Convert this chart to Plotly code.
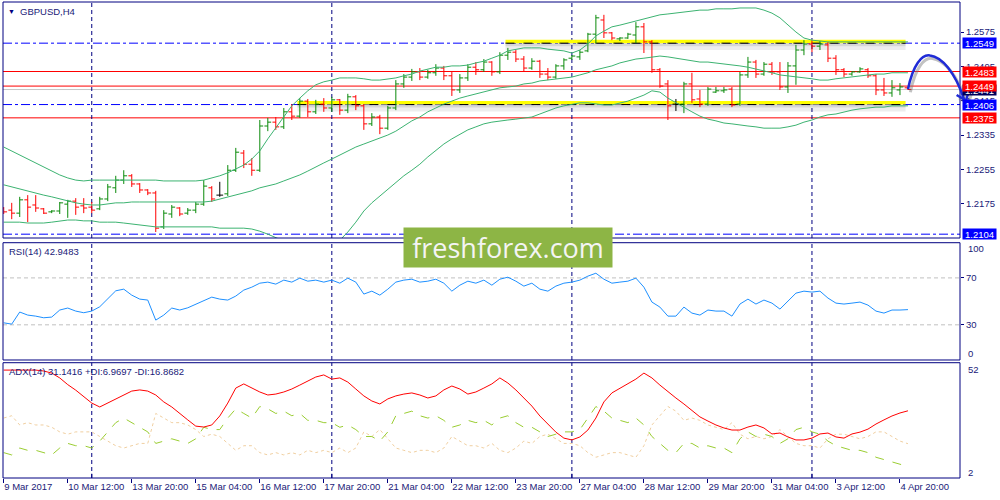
import plotly.graph_objects as go

# ---------------- data ----------------
x_labels = ["9 Mar 2017", "10 Mar 12:00", "13 Mar 20:00", "15 Mar 04:00", "16 Mar 12:00",
            "17 Mar 20:00", "21 Mar 04:00", "22 Mar 12:00", "23 Mar 20:00", "27 Mar 04:00",
            "28 Mar 12:00", "29 Mar 20:00", "31 Mar 04:00", "3 Apr 12:00", "4 Apr 20:00"]
x_label_bars = list(range(0, 113, 8))
week_separators = [11, 41, 71, 101]

open_ = [1.2165, 1.2160, 1.2153, 1.2184, 1.2172, 1.2163, 1.2156, 1.2158, 1.2174, 1.2181,
         1.2170, 1.2167, 1.2163, 1.2186, 1.2212, 1.2230, 1.2240, 1.2221, 1.2207, 1.2200,
         1.2121, 1.2151, 1.2165, 1.2153, 1.2160, 1.2174, 1.2212, 1.2195, 1.2198, 1.2253,
         1.2293, 1.2267, 1.2253, 1.2356, 1.2365, 1.2354, 1.2389, 1.2379, 1.2414, 1.2389,
         1.2407, 1.2398, 1.2417, 1.2393, 1.2424, 1.2403, 1.2361, 1.2377, 1.2351, 1.2398,
         1.2454, 1.2470, 1.2482, 1.2470, 1.2480, 1.2491, 1.2473, 1.2440, 1.2468, 1.2493,
         1.2487, 1.2505, 1.2482, 1.2521, 1.2528, 1.2512, 1.2491, 1.2507, 1.2477, 1.2470,
         1.2496, 1.2514, 1.2517, 1.2531, 1.2570, 1.2603, 1.2573, 1.2559, 1.2561, 1.2568,
         1.2587, 1.2552, 1.2487, 1.2454, 1.2407, 1.2407, 1.2454, 1.2419, 1.2407, 1.2435,
         1.2438, 1.2442, 1.2407, 1.2475, 1.2505, 1.2477, 1.2500, 1.2482, 1.2447, 1.2496,
         1.2533, 1.2547, 1.2542, 1.2545, 1.2514, 1.2487, 1.2477, 1.2482, 1.2487, 1.2473,
         1.2440, 1.2433, 1.2440, 1.2445]
high = [1.2167, 1.2177, 1.2191, 1.2195, 1.2195, 1.2165, 1.2160, 1.2179, 1.2184, 1.2188,
        1.2188, 1.2179, 1.2191, 1.2221, 1.2240, 1.2253, 1.2244, 1.2223, 1.2209, 1.2205,
        1.2160, 1.2172, 1.2167, 1.2165, 1.2179, 1.2230, 1.2216, 1.2226, 1.2265, 1.2305,
        1.2300, 1.2281, 1.2370, 1.2375, 1.2377, 1.2398, 1.2407, 1.2421, 1.2419, 1.2417,
        1.2421, 1.2424, 1.2419, 1.2431, 1.2428, 1.2407, 1.2386, 1.2382, 1.2403, 1.2463,
        1.2477, 1.2489, 1.2491, 1.2487, 1.2500, 1.2496, 1.2482, 1.2477, 1.2500, 1.2505,
        1.2512, 1.2507, 1.2528, 1.2538, 1.2533, 1.2519, 1.2514, 1.2510, 1.2491, 1.2500,
        1.2514, 1.2521, 1.2533, 1.2573, 1.2615, 1.2615, 1.2575, 1.2563, 1.2573, 1.2598,
        1.2596, 1.2556, 1.2491, 1.2463, 1.2419, 1.2459, 1.2480, 1.2440, 1.2447, 1.2447,
        1.2447, 1.2447, 1.2482, 1.2517, 1.2510, 1.2505, 1.2505, 1.2505, 1.2505, 1.2545,
        1.2556, 1.2556, 1.2554, 1.2552, 1.2521, 1.2491, 1.2484, 1.2493, 1.2491, 1.2477,
        1.2468, 1.2463, 1.2456, 1.2447]
low = [1.2151, 1.2139, 1.2144, 1.2132, 1.2156, 1.2151, 1.2153, 1.2151, 1.2142, 1.2149,
       1.2153, 1.2153, 1.2160, 1.2181, 1.2200, 1.2221, 1.2214, 1.2200, 1.2195, 1.2109,
       1.2116, 1.2142, 1.2146, 1.2149, 1.2153, 1.2170, 1.2179, 1.2191, 1.2193, 1.2249,
       1.2258, 1.2240, 1.2249, 1.2344, 1.2347, 1.2349, 1.2370, 1.2375, 1.2377, 1.2384,
       1.2389, 1.2389, 1.2382, 1.2386, 1.2393, 1.2347, 1.2356, 1.2337, 1.2347, 1.2393,
       1.2445, 1.2461, 1.2463, 1.2466, 1.2473, 1.2463, 1.2426, 1.2433, 1.2461, 1.2475,
       1.2482, 1.2473, 1.2477, 1.2510, 1.2505, 1.2482, 1.2487, 1.2468, 1.2463, 1.2466,
       1.2487, 1.2510, 1.2510, 1.2528, 1.2549, 1.2561, 1.2556, 1.2554, 1.2559, 1.2549,
       1.2526, 1.2480, 1.2445, 1.2370, 1.2391, 1.2386, 1.2410, 1.2400, 1.2403, 1.2433,
       1.2433, 1.2400, 1.2403, 1.2468, 1.2468, 1.2473, 1.2475, 1.2440, 1.2433, 1.2452,
       1.2521, 1.2528, 1.2533, 1.2505, 1.2475, 1.2470, 1.2473, 1.2480, 1.2468, 1.2428,
       1.2426, 1.2424, 1.2428, 1.2440]
close = [1.2156, 1.2153, 1.2184, 1.2167, 1.2165, 1.2153, 1.2158, 1.2177, 1.2181, 1.2167,
         1.2165, 1.2160, 1.2186, 1.2214, 1.2230, 1.2240, 1.2221, 1.2207, 1.2200, 1.2118,
         1.2153, 1.2167, 1.2151, 1.2160, 1.2174, 1.2216, 1.2186, 1.2195, 1.2253, 1.2295,
         1.2267, 1.2253, 1.2356, 1.2365, 1.2354, 1.2389, 1.2379, 1.2414, 1.2389, 1.2407,
         1.2398, 1.2417, 1.2393, 1.2424, 1.2403, 1.2361, 1.2377, 1.2351, 1.2398, 1.2454,
         1.2470, 1.2482, 1.2470, 1.2480, 1.2491, 1.2473, 1.2440, 1.2468, 1.2493, 1.2487,
         1.2505, 1.2482, 1.2521, 1.2528, 1.2512, 1.2491, 1.2507, 1.2477, 1.2470, 1.2496,
         1.2510, 1.2519, 1.2528, 1.2570, 1.2608, 1.2573, 1.2561, 1.2561, 1.2570, 1.2587,
         1.2552, 1.2487, 1.2449, 1.2403, 1.2407, 1.2454, 1.2417, 1.2407, 1.2442, 1.2438,
         1.2440, 1.2405, 1.2475, 1.2505, 1.2477, 1.2500, 1.2482, 1.2447, 1.2496, 1.2533,
         1.2547, 1.2542, 1.2547, 1.2514, 1.2487, 1.2477, 1.2482, 1.2489, 1.2473, 1.2440,
         1.2433, 1.2445, 1.2447, 1.2441]

bb_upper = [1.2307, 1.2298, 1.2288, 1.2279, 1.2270, 1.2261, 1.2251, 1.2242, 1.2235, 1.2230,
            1.2228, 1.2230, 1.2230, 1.2230, 1.2230, 1.2230, 1.2230, 1.2230, 1.2230, 1.2230,
            1.2228, 1.2228, 1.2228, 1.2228, 1.2228, 1.2230, 1.2235, 1.2240, 1.2247, 1.2256,
            1.2265, 1.2279, 1.2298, 1.2326, 1.2351, 1.2377, 1.2403, 1.2421, 1.2438, 1.2452,
            1.2459, 1.2463, 1.2468, 1.2468, 1.2468, 1.2466, 1.2463, 1.2463, 1.2466, 1.2468,
            1.2473, 1.2477, 1.2484, 1.2489, 1.2493, 1.2493, 1.2496, 1.2496, 1.2498, 1.2503,
            1.2507, 1.2514, 1.2521, 1.2531, 1.2535, 1.2538, 1.2538, 1.2538, 1.2535, 1.2533,
            1.2531, 1.2526, 1.2533, 1.2547, 1.2566, 1.2577, 1.2587, 1.2591, 1.2596, 1.2601,
            1.2605, 1.2610, 1.2615, 1.2617, 1.2619, 1.2622, 1.2624, 1.2626, 1.2626, 1.2629,
            1.2629, 1.2629, 1.2631, 1.2631, 1.2631, 1.2626, 1.2619, 1.2608, 1.2591, 1.2575,
            1.2561, 1.2556, 1.2554, 1.2552, 1.2552, 1.2552, 1.2552, 1.2552, 1.2552, 1.2552,
            1.2552, 1.2552, 1.2552, 1.2552]
bb_middle = [1.2219, 1.2214, 1.2209, 1.2205, 1.2200, 1.2195, 1.2191, 1.2186, 1.2181, 1.2177,
             1.2174, 1.2172, 1.2172, 1.2174, 1.2177, 1.2177, 1.2179, 1.2179, 1.2179, 1.2179,
             1.2179, 1.2179, 1.2179, 1.2179, 1.2179, 1.2179, 1.2181, 1.2186, 1.2191, 1.2195,
             1.2200, 1.2205, 1.2212, 1.2216, 1.2221, 1.2228, 1.2235, 1.2242, 1.2251, 1.2261,
             1.2270, 1.2279, 1.2288, 1.2298, 1.2307, 1.2314, 1.2321, 1.2328, 1.2335, 1.2344,
             1.2356, 1.2368, 1.2377, 1.2389, 1.2398, 1.2407, 1.2414, 1.2421, 1.2426, 1.2431,
             1.2435, 1.2440, 1.2445, 1.2447, 1.2449, 1.2454, 1.2456, 1.2461, 1.2463, 1.2466,
             1.2468, 1.2470, 1.2475, 1.2480, 1.2487, 1.2491, 1.2496, 1.2503, 1.2507, 1.2512,
             1.2514, 1.2517, 1.2519, 1.2517, 1.2514, 1.2510, 1.2507, 1.2505, 1.2505, 1.2503,
             1.2500, 1.2498, 1.2496, 1.2493, 1.2489, 1.2484, 1.2480, 1.2475, 1.2473, 1.2470,
             1.2468, 1.2466, 1.2463, 1.2463, 1.2466, 1.2468, 1.2470, 1.2473, 1.2475, 1.2477,
             1.2477, 1.2480, 1.2480, 1.2480]
bb_lower = [1.2132, 1.2132, 1.2132, 1.2130, 1.2130, 1.2130, 1.2132, 1.2135, 1.2137, 1.2137,
            1.2135, 1.2135, 1.2132, 1.2132, 1.2132, 1.2130, 1.2128, 1.2125, 1.2123, 1.2121,
            1.2121, 1.2121, 1.2121, 1.2121, 1.2121, 1.2121, 1.2121, 1.2118, 1.2118, 1.2118,
            1.2118, 1.2116, 1.2111, 1.2104, 1.2097, 1.2088, 1.2076, 1.2067, 1.2062, 1.2062,
            1.2067, 1.2076, 1.2090, 1.2109, 1.2132, 1.2158, 1.2177, 1.2193, 1.2207, 1.2223,
            1.2240, 1.2253, 1.2267, 1.2284, 1.2300, 1.2314, 1.2326, 1.2337, 1.2347, 1.2354,
            1.2361, 1.2365, 1.2368, 1.2370, 1.2372, 1.2375, 1.2377, 1.2384, 1.2391, 1.2398,
            1.2403, 1.2407, 1.2410, 1.2410, 1.2407, 1.2405, 1.2405, 1.2410, 1.2414, 1.2421,
            1.2428, 1.2438, 1.2435, 1.2421, 1.2410, 1.2398, 1.2389, 1.2379, 1.2372, 1.2368,
            1.2363, 1.2361, 1.2358, 1.2356, 1.2354, 1.2351, 1.2351, 1.2351, 1.2354, 1.2358,
            1.2365, 1.2370, 1.2377, 1.2382, 1.2384, 1.2389, 1.2393, 1.2396, 1.2398, 1.2400,
            1.2400, 1.2403, 1.2403, 1.2403]

rsi = [31.7, 30.6, 40.9, 38.3, 37.4, 36.0, 36.6, 42.6, 44.3, 41.7,
       40.3, 41.7, 45.4, 52.0, 59.0, 60.4, 55.3, 51.9, 51.1, 34.0,
       38.3, 44.3, 42.6, 44.5, 47.7, 51.1, 53.6, 51.9, 51.1, 54.5,
       59.6, 62.1, 65.5, 66.4, 64.7, 68.1, 66.4, 69.8, 67.2, 68.1,
       66.4, 68.1, 65.5, 69.8, 66.4, 56.2, 58.7, 55.3, 60.4, 66.4,
       68.1, 68.9, 66.4, 67.2, 68.9, 65.5, 58.7, 63.8, 67.2, 65.5,
       68.1, 63.8, 68.9, 70.6, 67.2, 63.0, 65.5, 60.4, 58.7, 63.0,
       65.5, 66.4, 68.1, 71.5, 74.0, 68.9, 65.5, 66.4, 67.2, 69.8,
       62.1, 49.4, 45.1, 37.4, 37.4, 45.1, 40.0, 38.3, 42.6, 41.7,
       41.7, 37.4, 47.7, 51.9, 47.7, 51.1, 48.5, 43.4, 50.2, 57.0,
       58.7, 57.9, 58.7, 52.8, 48.5, 47.7, 48.5, 49.4, 46.8, 41.7,
       40.0, 42.6, 42.6, 42.9483]

adx = [48.8, 48.8, 48.8, 48.8, 48.8, 48.4, 47.5, 45.4, 42.5, 40.1,
       37.1, 34.5, 32.8, 34.5, 36.3, 38.0, 39.7, 40.2, 39.7, 38.0,
       35.0, 32.8, 29.8, 27.2, 24.5, 24.1, 25.0, 28.9, 34.5, 41.0,
       42.8, 41.0, 39.3, 38.0, 38.4, 39.3, 40.6, 42.3, 44.1, 45.8,
       46.7, 44.9, 45.4, 43.6, 40.6, 37.6, 35.4, 34.1, 36.3, 37.6,
       38.4, 38.9, 38.0, 36.7, 37.6, 40.2, 41.9, 40.6, 38.4, 39.3,
       41.0, 42.8, 45.4, 43.2, 40.2, 36.7, 33.2, 28.9, 25.4, 21.9,
       19.3, 18.5, 19.8, 22.8, 28.0, 35.0, 38.9, 41.0, 42.8, 44.9,
       47.5, 45.4, 42.3, 39.3, 36.7, 34.1, 31.1, 28.5, 26.7, 25.0,
       23.7, 22.8, 22.8, 24.1, 25.0, 23.7, 21.1, 21.5, 19.8, 18.5,
       18.5, 19.3, 21.1, 21.5, 19.8, 19.3, 21.1, 21.9, 23.2, 25.4,
       27.2, 28.9, 30.2, 31.1416]
plus_di = [13, 12, 15, 14, 14, 13, 12, 15, 17, 16,
           16, 15, 18, 22, 26, 28, 26, 24, 22, 17,
           18, 19, 18, 17, 19, 24, 23, 23, 28, 32,
           30, 28, 33, 32, 30, 31, 29, 30, 27, 27,
           26, 26, 24, 25, 23, 20, 20, 18, 22, 29,
           30, 31, 29, 28, 29, 27, 24, 25, 27, 26,
           27, 25, 28, 29, 26, 24, 24, 22, 20, 21,
           22, 22, 23, 28, 33, 31, 28, 27, 26, 28,
           25, 20, 17, 14, 13, 17, 17, 15, 16, 15,
           15, 13, 19, 22, 20, 21, 20, 17, 19, 23,
           24, 22, 21, 18, 16, 15, 14, 14, 13, 11,
           10, 9, 8, 6.9697]
minus_di = [28, 29, 25, 26, 25, 25, 24, 22, 21, 22,
            22, 22, 20, 18, 16, 15, 16, 17, 17, 30,
            28, 26, 26, 25, 23, 20, 21, 20, 17, 14,
            16, 16, 13, 12, 13, 12, 13, 12, 14, 13,
            14, 13, 15, 13, 15, 22, 20, 23, 19, 15,
            14, 13, 14, 14, 13, 15, 20, 18, 16, 16,
            15, 17, 14, 13, 15, 18, 17, 20, 21, 19,
            17, 17, 16, 13, 11, 12, 13, 13, 12, 11,
            16, 25, 29, 33, 31, 27, 28, 27, 25, 24,
            23, 26, 21, 19, 20, 19, 20, 23, 20, 17,
            16, 16, 15, 19, 21, 21, 20, 19, 20, 22,
            22, 20, 18, 16.8682]

price_ticks = [1.2575, 1.2495, 1.2415, 1.2335, 1.2255, 1.2175, 1.2095]
red_levels = [1.2483, 1.2449, 1.2375]
blue_levels = [1.2549, 1.2406, 1.2104]
bid_price = 1.2441
highlight_levels = [1.2549, 1.2406]
highlight_from_bar = [62.7, 36.7]
highlight_to_bar = [112.7, 112.7]
label_prices = [1.2441, 1.2549, 1.2483, 1.2449, 1.2406, 1.2375, 1.2104]
label_colors = ["#00005a", "#0000ff", "#ff0000", "#ff0000", "#0000ff", "#ff0000", "#0000ff"]

# ---------------- styling ----------------
NAVY = "#000080"
TXT = "#1a1a78"
FONT = "Liberation Sans"
FS = 9.5
XR = [-0.09, 119.5]
PRICE_RANGE = [1.20951, 1.26449]
D_MAIN = [0.5042, 1.0]
D_RSI = [0.2479, 0.4943]
D_ADX = [0.0, 0.2422]

n = len(close)
xs = list(range(n))

fig = go.Figure()

normal = [i for i in xs if open_[i] != close[i]]
doji = [i for i in xs if open_[i] == close[i]]
fig.add_trace(go.Ohlc(
    x=normal, open=[open_[i] for i in normal], high=[high[i] for i in normal],
    low=[low[i] for i in normal], close=[close[i] for i in normal],
    increasing=dict(line=dict(color="#0a8a0a", width=1)),
    decreasing=dict(line=dict(color="#ff0000", width=1)),
    tickwidth=0.42, xaxis="x", yaxis="y", showlegend=False, hoverinfo="skip"))
fig.add_trace(go.Ohlc(
    x=doji, open=[open_[i] for i in doji], high=[high[i] for i in doji],
    low=[low[i] for i in doji], close=[close[i] for i in doji],
    increasing=dict(line=dict(color="#000000", width=1)),
    decreasing=dict(line=dict(color="#000000", width=1)),
    tickwidth=0.42, xaxis="x", yaxis="y", showlegend=False, hoverinfo="skip"))

for band in (bb_upper, bb_middle, bb_lower):
    fig.add_trace(go.Scatter(x=xs, y=band, mode="lines", line=dict(color="#3cb371", width=1),
                             xaxis="x", yaxis="y", showlegend=False, hoverinfo="skip"))

fig.add_trace(go.Scatter(x=xs, y=rsi, mode="lines", line=dict(color="#1e90ff", width=1),
                         xaxis="x", yaxis="y2", showlegend=False, hoverinfo="skip"))

fig.add_trace(go.Scatter(x=xs, y=minus_di, mode="lines", line=dict(color="#f0cfa0", width=1, dash="dot"),
                         xaxis="x", yaxis="y3", showlegend=False, hoverinfo="skip"))
fig.add_trace(go.Scatter(x=xs, y=plus_di, mode="lines", line=dict(color="#9acd32", width=1, dash="dash"),
                         xaxis="x", yaxis="y3", showlegend=False, hoverinfo="skip"))
fig.add_trace(go.Scatter(x=xs, y=adx, mode="lines", line=dict(color="#ff0000", width=1),
                         xaxis="x", yaxis="y3", showlegend=False, hoverinfo="skip"))

shapes = []
for lvl, a, b in zip(highlight_levels, highlight_from_bar, highlight_to_bar):
    shapes.append(dict(type="rect", xref="x", yref="y", x0=a, x1=b, y0=lvl - 0.0007, y1=lvl,
                       fillcolor="rgba(0,0,0,0.16)", line=dict(width=0), layer="below"))
    shapes.append(dict(type="rect", xref="x", yref="y", x0=a, x1=b, y0=lvl - 0.0016, y1=lvl - 0.0007,
                       fillcolor="rgba(0,0,0,0.07)", line=dict(width=0), layer="below"))
    shapes.append(dict(type="rect", xref="x", yref="y", x0=a, x1=b, y0=lvl, y1=lvl + 0.0008,
                       fillcolor="#ffff00", line=dict(width=0), layer="below"))
shapes.append(dict(type="line", xref="paper", yref="y", x0=0, x1=1, y0=bid_price, y1=bid_price,
                   line=dict(color="#c8c8c8", width=1), layer="below"))
for lvl in red_levels:
    shapes.append(dict(type="line", xref="paper", yref="y", x0=0, x1=1, y0=lvl, y1=lvl,
                       line=dict(color="#ff0000", width=1), layer="below"))
for lvl in blue_levels:
    shapes.append(dict(type="line", xref="paper", yref="y", x0=0, x1=1, y0=lvl, y1=lvl,
                       line=dict(color="#0000ff", width=1, dash="dashdot"), layer="below"))
for lvl, a, b in zip(highlight_levels, highlight_from_bar, highlight_to_bar):
    shapes.append(dict(type="line", xref="x", yref="y", x0=a, x1=b, y0=lvl, y1=lvl,
                       line=dict(color="#000000", width=1, dash="dash"), layer="below"))

for lv in (70, 30):
    shapes.append(dict(type="line", xref="paper", yref="y2", x0=0, x1=1, y0=lv, y1=lv,
                       line=dict(color="#c0c0c0", width=1, dash="4px,3px"), layer="below"))

for s in week_separators:
    for yr in ("y domain", "y2 domain", "y3 domain"):
        shapes.append(dict(type="line", xref="x", yref=yr, x0=s, x1=s, y0=0, y1=1,
                           line=dict(color=NAVY, width=1, dash="4px,3px"), layer="below"))
    shapes.append(dict(type="line", xref="x", yref="paper", x0=s, x1=s, y0=0, y1=0.009,
                       line=dict(color=NAVY, width=1), layer="above"))

for d in (D_MAIN, D_RSI, D_ADX):
    shapes.append(dict(type="rect", xref="paper", yref="paper", x0=0, x1=1, y0=d[0], y1=d[1],
                       line=dict(color=NAVY, width=1), fillcolor="rgba(0,0,0,0)", layer="above"))

def px(i):
    return (i - XR[0]) / (XR[1] - XR[0])

arc = [(113.0, 1.24415), (113.6, 1.24982), (114.75, 1.25238), (115.75, 1.25203),
       (117.25, 1.25168), (118.87, 1.24818), (120.0, 1.24189)]
head = [(119.08, 1.24283), (120.25, 1.24150), (120.96, 1.24585)]

def arc_path(dx=0.0, dy=0.0):
    p = [(px(a + dx), b + dy) for a, b in arc]
    h = [(px(a + dx), b + dy) for a, b in head]
    s = "M {},{} C {},{} {},{} {},{} C {},{} {},{} {},{}".format(
        p[0][0], p[0][1], p[1][0], p[1][1], p[2][0], p[2][1], p[3][0], p[3][1],
        p[4][0], p[4][1], p[5][0], p[5][1], p[6][0], p[6][1])
    s += " M {},{} L {},{} L {},{}".format(h[0][0], h[0][1], h[1][0], h[1][1], h[2][0], h[2][1])
    return s

shapes.append(dict(type="path", xref="paper", yref="y", path=arc_path(0.3, -0.0007),
                   line=dict(color="rgba(120,120,120,0.45)", width=3), layer="above"))
shapes.append(dict(type="path", xref="paper", yref="y", path=arc_path(),
                   line=dict(color="#1f2bd6", width=2.5), layer="above"))

annotations = []
for p, c in zip(label_prices, label_colors):
    annotations.append(dict(xref="paper", yref="y", x=1.0021, y=p, xanchor="left", yanchor="middle",
                            text="{:.4f}".format(p), showarrow=False, bgcolor=c, borderpad=0,
                            width=33, height=10, font=dict(family=FONT, size=FS, color="#ffffff")))

def py(ypix):
    return (478 - ypix) / 476

for txt, ypix in (("100", 249), ("0", 353), ("52", 369), ("2", 472.7)):
    annotations.append(dict(xref="paper", yref="paper", x=1.0063, y=py(ypix), xanchor="left",
                            yanchor="middle", text=txt, showarrow=False,
                            font=dict(family=FONT, size=FS, color=TXT)))

annotations.append(dict(xref="paper", yref="paper", x=0.0031, y=py(11), xanchor="left", yanchor="middle",
                        text="▼", showarrow=False, font=dict(family=FONT, size=7, color=NAVY)))
annotations.append(dict(xref="paper", yref="paper", x=0.0157, y=py(11), xanchor="left", yanchor="middle",
                        text="GBPUSD,H4", showarrow=False, font=dict(family=FONT, size=FS, color=TXT)))
annotations.append(dict(xref="paper", yref="paper", x=0.0045, y=py(251.5), xanchor="left", yanchor="middle",
                        text="RSI(14) {}".format(rsi[-1]), showarrow=False,
                        font=dict(family=FONT, size=FS, color=TXT)))
annotations.append(dict(xref="paper", yref="paper", x=0.0045, y=py(371.5), xanchor="left", yanchor="middle",
                        text="ADX(14) {} +DI:{} -DI:{}".format(adx[-1], plus_di[-1], minus_di[-1]),
                        showarrow=False, font=dict(family=FONT, size=FS, color=TXT)))
annotations.append(dict(xref="paper", yref="paper", x=(508 - 3) / 957, y=py(247.5), xanchor="center",
                        yanchor="middle", text="freshforex.com", showarrow=False, bgcolor="#8db545",
                        width=208, height=39, borderpad=0,
                        font=dict(family="Open Sans", size=27, color="#f4f4f4")))

axis_common = dict(showgrid=False, zeroline=False, showline=False, automargin=False)
fig.update_layout(
    width=1000, height=500,
    margin=dict(l=3, r=40, t=2, b=22, pad=0),
    paper_bgcolor="#ffffff", plot_bgcolor="#ffffff",
    showlegend=False,
    xaxis=dict(domain=[0, 1], range=XR, anchor="y3", tickmode="array", tickvals=x_label_bars,
               ticktext=x_labels, ticks="outside", ticklen=4, tickcolor=NAVY, tickangle=0,
               ticklabelposition="outside right",
               tickfont=dict(family=FONT, size=FS, color=TXT), rangeslider=dict(visible=False),
               fixedrange=True, **axis_common),
    yaxis=dict(domain=D_MAIN, range=PRICE_RANGE, anchor="x", side="right", tickmode="array",
               tickvals=price_ticks, ticktext=["{:.4f}".format(v) for v in price_ticks],
               ticks="outside", ticklen=3, tickcolor=NAVY,
               tickfont=dict(family=FONT, size=FS, color=TXT), **axis_common),
    yaxis2=dict(domain=D_RSI, range=[0, 100], anchor="x", side="right", tickmode="array",
                tickvals=[70, 30], ticktext=["70", "30"], ticks="outside", ticklen=3, tickcolor=NAVY,
                tickfont=dict(family=FONT, size=FS, color=TXT), **axis_common),
    yaxis3=dict(domain=D_ADX, range=[2, 52], anchor="x", side="right", showticklabels=False,
                ticks="", **axis_common),
    shapes=shapes,
    annotations=annotations,
)

fig.write_html("out.html", config={"displayModeBar": False, "staticPlot": True},
               post_script="document.body.style.margin='0';document.body.style.overflow='hidden';")
